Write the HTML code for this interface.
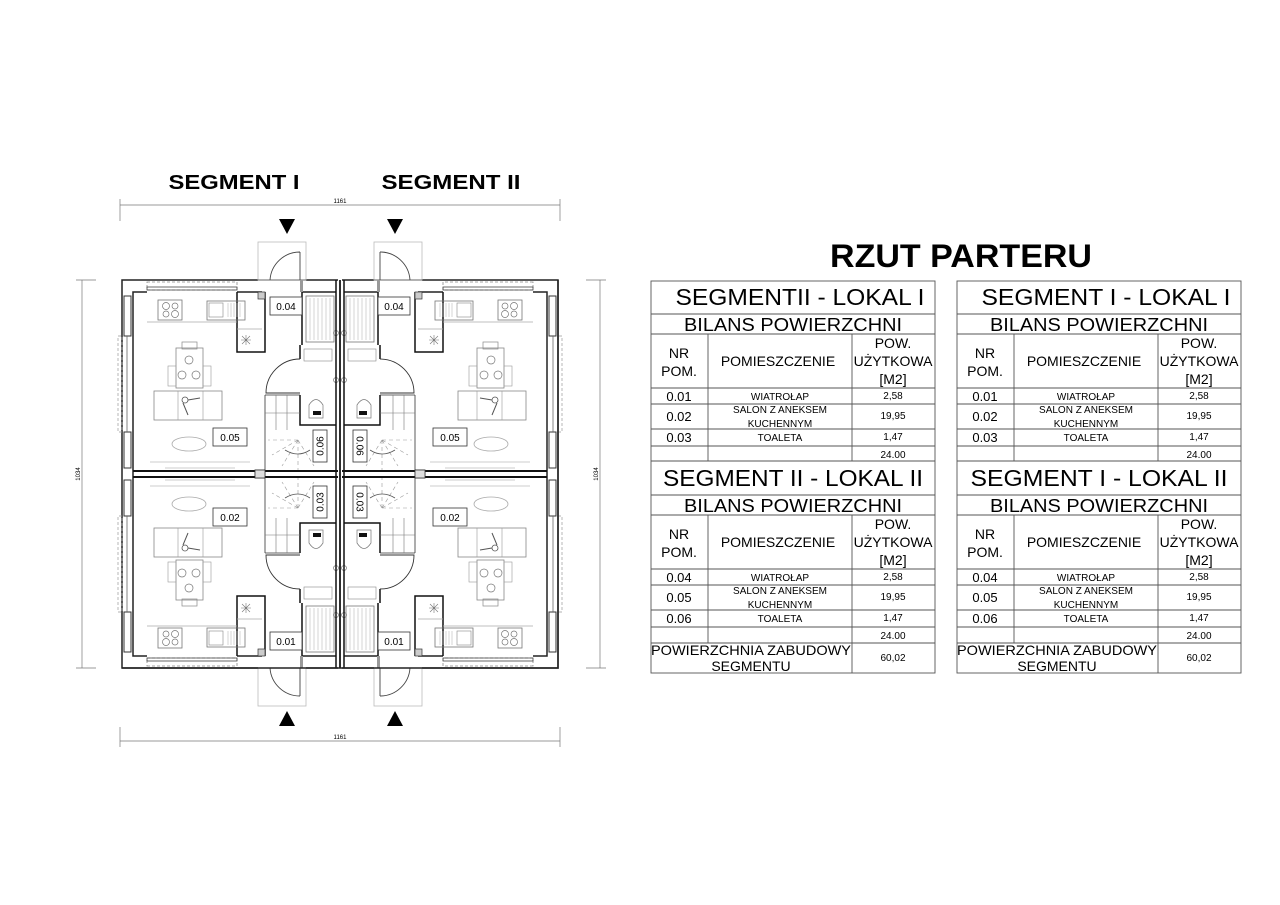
<!DOCTYPE html>
<html><head><meta charset="utf-8"><style>
html,body{margin:0;padding:0;background:#fff;width:1280px;height:905px;overflow:hidden}
svg{display:block}
text{font-family:"Liberation Sans",sans-serif;fill:#000}
</style></head><body>
<svg width="1280" height="905" viewBox="0 0 1280 905" xmlns="http://www.w3.org/2000/svg">
<defs>
<g id="quad">
 <path d="M122,474 V280 H258 M133,474 V292 H147 M237,292 H262" fill="none" stroke="#222" stroke-width="1.5"/>
 <path d="M306,280 H338 M302,292 H336" fill="none" stroke="#222" stroke-width="1.5"/>
 <rect x="124" y="296" width="7" height="40" fill="#fff" stroke="#333" stroke-width="1"/>
 <rect x="124" y="432" width="7" height="36" fill="#fff" stroke="#333" stroke-width="1"/>
 <rect x="147" y="282" width="90" height="8" fill="none" stroke="#888" stroke-width="0.8" stroke-dasharray="3,2"/>
 <rect x="147" y="287" width="90" height="3" fill="none" stroke="#444" stroke-width="0.8"/>
 <rect x="118" y="336" width="4" height="96" fill="none" stroke="#999" stroke-width="0.7" stroke-dasharray="3,2"/>
 <line x1="127" y1="336" x2="127" y2="432" stroke="#666" stroke-width="0.8"/>
 <path d="M133,471 H338" stroke="#111" stroke-width="2"/>
 <rect x="255" y="470" width="10" height="8" fill="#ddd" stroke="#333" stroke-width="0.8"/>
 <path d="M237,292 V352 H265 V292" fill="none" stroke="#111" stroke-width="1.5"/>
 <rect x="258" y="292" width="7" height="7" fill="#ccc" stroke="#333" stroke-width="0.7"/>
 <path d="M147,322 H237" stroke="#aaa" stroke-width="0.8"/>
 <line x1="237" y1="329" x2="262" y2="329" stroke="#aaa" stroke-width="0.8"/>
 <rect x="158" y="300" width="24" height="20" fill="none" stroke="#777" stroke-width="0.8"/>
 <circle cx="166" cy="306" r="3.5" fill="none" stroke="#777" stroke-width="0.7"/>
 <circle cx="175" cy="306" r="3" fill="none" stroke="#777" stroke-width="0.7"/>
 <circle cx="166" cy="314" r="3" fill="none" stroke="#777" stroke-width="0.7"/>
 <circle cx="175" cy="314" r="3.5" fill="none" stroke="#777" stroke-width="0.7"/>
 <rect x="207" y="301" width="38" height="19" fill="none" stroke="#777" stroke-width="0.8"/>
 <rect x="209" y="303" width="14" height="14" fill="none" stroke="#888" stroke-width="0.6"/>
 <path d="M228,303 V317 M231,303 V317 M234,303 V317 M237,303 V317 M240,303 V317" stroke="#aaa" stroke-width="0.5"/>
 <path d="M246,335 V345 M241,340 H251 M242,336 L250,344 M250,336 L242,344" stroke="#777" stroke-width="0.6"/>
 <rect x="176" y="348" width="27" height="40" fill="none" stroke="#888" stroke-width="0.8"/>
 <rect x="182" y="342" width="15" height="7" fill="none" stroke="#888" stroke-width="0.7"/>
 <circle cx="189" cy="360" r="4" fill="none" stroke="#777" stroke-width="0.7"/>
 <circle cx="182" cy="375" r="4" fill="none" stroke="#777" stroke-width="0.7"/>
 <circle cx="196" cy="375" r="4" fill="none" stroke="#777" stroke-width="0.7"/>
 <rect x="168" y="366" width="8" height="20" fill="none" stroke="#999" stroke-width="0.6"/>
 <rect x="203" y="366" width="8" height="20" fill="none" stroke="#999" stroke-width="0.6"/>
 <rect x="154" y="391" width="68" height="29" fill="none" stroke="#888" stroke-width="0.8"/>
 <path d="M178,391 V420 M203,391 V420" stroke="#999" stroke-width="0.6"/>
 <circle cx="185" cy="400" r="3" fill="none" stroke="#555" stroke-width="0.8"/>
 <path d="M183,403 L188,415 M188,400 L200,398" stroke="#555" stroke-width="1"/>
 <ellipse cx="189" cy="444" rx="17" ry="7" fill="none" stroke="#aaa" stroke-width="0.8"/>
 <path d="M150,462 H250 M165,468 H235" stroke="#ccc" stroke-width="1"/>
 <path d="M302,292 V345" stroke="#111" stroke-width="1.5"/>
 <rect x="306" y="296" width="28" height="46" fill="none" stroke="#777" stroke-width="0.8"/>
 <path d="M310,298 V340 M314,298 V340 M318,298 V340 M322,298 V340 M326,298 V340 M330,298 V340" stroke="#bbb" stroke-width="0.6"/>
 <circle cx="336" cy="333" r="2.5" fill="none" stroke="#666" stroke-width="0.6"/>
 <circle cx="336" cy="380" r="2.5" fill="none" stroke="#666" stroke-width="0.6"/>
 <path d="M300,345 V359 M300,395 V425 H336" fill="none" stroke="#111" stroke-width="1.5"/>
 <rect x="304" y="349" width="28" height="12" fill="none" stroke="#888" stroke-width="0.6"/>
 <path d="M309,418 V405 Q316,394 323,405 V418 Z" fill="none" stroke="#777" stroke-width="0.7"/>
 <rect x="313" y="411" width="8" height="4" fill="#111"/>
 <path d="M300,359 A34,34 0 0 0 266,393 H300" fill="none" stroke="#333" stroke-width="0.9"/>
 <path d="M265,395 V471 M265,395 H300" stroke="#333" stroke-width="0.8" fill="none"/>
 <path d="M276,395 V430 M287,395 V430 M265,413 H300" stroke="#777" stroke-width="0.6"/>
 <path d="M298,440 L268,440 M298,440 L272,455 M298,440 L282,466 M298,440 L298,470 M298,440 L314,466" stroke="#999" stroke-width="0.6" stroke-dasharray="4,3"/>
 <path d="M285,450 Q298,458 310,450" fill="none" stroke="#555" stroke-width="0.8"/>
 <rect x="313" y="430" width="14" height="32" fill="#fff" stroke="#333" stroke-width="0.8"/>
 <path d="M336,280 V474 M340,280 V474" stroke="#111" stroke-width="1.5"/>
 <rect x="258" y="242" width="48" height="38" fill="none" stroke="#bbb" stroke-width="0.8"/>
 <path d="M300,252 V280 M300,252 A30,30 0 0 0 270,280" fill="none" stroke="#444" stroke-width="0.9"/>
 <path d="M258,280 H306" stroke="#444" stroke-width="0.8"/>
 <rect x="300" y="280" width="3" height="12" fill="#999"/>
</g>
<g id="half">
 <use href="#quad"/>
 <use href="#quad" transform="translate(0,948) scale(1,-1)"/>
</g>
</defs>

<text x="234" y="189" font-size="20" font-weight="bold" text-anchor="middle" textLength="131" lengthAdjust="spacingAndGlyphs">SEGMENT I</text>
<text x="451" y="189" font-size="20" font-weight="bold" text-anchor="middle" textLength="139" lengthAdjust="spacingAndGlyphs">SEGMENT II</text>
<text x="830" y="267" font-size="32" font-weight="bold" textLength="262" lengthAdjust="spacingAndGlyphs">RZUT PARTERU</text>

<g stroke="#777" stroke-width="0.7">
 <line x1="120" y1="205" x2="560" y2="205"/><line x1="120" y1="199" x2="120" y2="221"/><line x1="560" y1="199" x2="560" y2="221"/>
 <line x1="120" y1="741" x2="560" y2="741"/><line x1="120" y1="727" x2="120" y2="747"/><line x1="560" y1="727" x2="560" y2="747"/>
 <line x1="82" y1="280" x2="82" y2="668"/><line x1="76" y1="280" x2="96" y2="280"/><line x1="76" y1="668" x2="96" y2="668"/>
 <line x1="600" y1="280" x2="600" y2="668"/><line x1="586" y1="280" x2="606" y2="280"/><line x1="586" y1="668" x2="606" y2="668"/>
</g>
<text x="340" y="203" font-size="6" fill="#888" text-anchor="middle">1161</text>
<text x="340" y="739" font-size="6" fill="#888" text-anchor="middle">1161</text>
<text x="80" y="474" font-size="6" fill="#888" text-anchor="middle" transform="rotate(-90 80 474)">1034</text>
<text x="598" y="474" font-size="6" fill="#888" text-anchor="middle" transform="rotate(-90 598 474)">1034</text>

<path d="M279,219 H295 L287,234 Z M387,219 H403 L395,234 Z M279,726 H295 L287,711 Z M387,726 H403 L395,711 Z" fill="#000"/>

<use href="#half"/>
<use href="#half" transform="translate(680,0) scale(-1,1)"/>
<path d="M122,668 H558 V280" fill="none" stroke="#222" stroke-width="1.5"/>

<g fill="#fff" stroke="#333" stroke-width="0.8">
 <rect x="270" y="297" width="32" height="18"/><rect x="378" y="297" width="32" height="18"/>
 <rect x="213" y="428" width="34" height="18"/><rect x="433" y="428" width="34" height="18"/>
 <rect x="213" y="508" width="34" height="18"/><rect x="433" y="508" width="34" height="18"/>
 <rect x="270" y="632" width="32" height="18"/><rect x="378" y="632" width="32" height="18"/>
</g>
<g font-size="10" text-anchor="middle">
<text x="286" y="310">0.04</text><text x="394" y="310">0.04</text>
<text x="230" y="441">0.05</text><text x="450" y="441">0.05</text>
<text x="230" y="521">0.02</text><text x="450" y="521">0.02</text>
<text x="286" y="645">0.01</text><text x="394" y="645">0.01</text>
<text x="320" y="449.5" transform="rotate(-90 320 446)">0.06</text>
<text x="360" y="449.5" transform="rotate(90 360 446)">0.06</text>
<text x="320" y="505.5" transform="rotate(-90 320 502)">0.03</text>
<text x="360" y="505.5" transform="rotate(90 360 502)">0.03</text>
</g>

<g fill="none" stroke="#555" stroke-width="0.9">
 <g id="tbl">
 <rect x="651" y="281" width="284" height="392"/>
 <path d="M651,314 H935 M651,334 H935 M651,388 H935 M651,404 H935 M651,429 H935 M651,446 H935 M651,461 H935
          M651,495 H935 M651,515 H935 M651,569 H935 M651,585 H935 M651,610 H935 M651,627 H935 M651,643 H935
          M708,334 V461 M852,334 V461 M708,515 V643 M852,515 V673"/>
 </g>
 <use href="#tbl" transform="translate(306,0)"/>
</g>

<g text-anchor="middle">
 <text x="800" y="305" font-size="23" textLength="249" lengthAdjust="spacingAndGlyphs">SEGMENTII - LOKAL I</text>
 <text x="793" y="331" font-size="18" textLength="218" lengthAdjust="spacingAndGlyphs">BILANS POWIERZCHNI</text>
 <text x="679" y="358" font-size="14">NR</text><text x="679" y="376" font-size="14">POM.</text>
 <text x="778" y="366" font-size="14">POMIESZCZENIE</text>
 <text x="893" y="348" font-size="14">POW.</text><text x="893" y="366" font-size="14">UŻYTKOWA</text><text x="893" y="384" font-size="14">[M2]</text>
 <text x="679" y="401" font-size="13">0.01</text><text x="780" y="400" font-size="10">WIATROŁAP</text><text x="893" y="399" font-size="10">2,58</text>
 <text x="679" y="421" font-size="13">0.02</text><text x="780" y="413" font-size="10">SALON Z ANEKSEM</text><text x="780" y="427" font-size="10">KUCHENNYM</text><text x="893" y="419" font-size="10">19,95</text>
 <text x="679" y="442" font-size="13">0.03</text><text x="780" y="441" font-size="10">TOALETA</text><text x="893" y="440" font-size="10">1,47</text>
 <text x="893" y="458" font-size="10">24.00</text>
 <text x="793" y="486" font-size="23" textLength="260" lengthAdjust="spacingAndGlyphs">SEGMENT II - LOKAL II</text>
 <text x="793" y="512" font-size="18" textLength="218" lengthAdjust="spacingAndGlyphs">BILANS POWIERZCHNI</text>
 <text x="679" y="539" font-size="14">NR</text><text x="679" y="557" font-size="14">POM.</text>
 <text x="778" y="547" font-size="14">POMIESZCZENIE</text>
 <text x="893" y="529" font-size="14">POW.</text><text x="893" y="547" font-size="14">UŻYTKOWA</text><text x="893" y="565" font-size="14">[M2]</text>
 <text x="679" y="582" font-size="13">0.04</text><text x="780" y="581" font-size="10">WIATROŁAP</text><text x="893" y="580" font-size="10">2,58</text>
 <text x="679" y="602" font-size="13">0.05</text><text x="780" y="594" font-size="10">SALON Z ANEKSEM</text><text x="780" y="608" font-size="10">KUCHENNYM</text><text x="893" y="600" font-size="10">19,95</text>
 <text x="679" y="623" font-size="13">0.06</text><text x="780" y="622" font-size="10">TOALETA</text><text x="893" y="621" font-size="10">1,47</text>
 <text x="893" y="639" font-size="10">24.00</text>
 <text x="751" y="655" font-size="14" textLength="200" lengthAdjust="spacingAndGlyphs">POWIERZCHNIA ZABUDOWY</text><text x="751" y="671" font-size="14">SEGMENTU</text>
 <text x="893" y="661" font-size="10">60,02</text>

 <text x="1106" y="305" font-size="23" textLength="249" lengthAdjust="spacingAndGlyphs">SEGMENT I - LOKAL I</text>
 <text x="1099" y="331" font-size="18" textLength="218" lengthAdjust="spacingAndGlyphs">BILANS POWIERZCHNI</text>
 <text x="985" y="358" font-size="14">NR</text><text x="985" y="376" font-size="14">POM.</text>
 <text x="1084" y="366" font-size="14">POMIESZCZENIE</text>
 <text x="1199" y="348" font-size="14">POW.</text><text x="1199" y="366" font-size="14">UŻYTKOWA</text><text x="1199" y="384" font-size="14">[M2]</text>
 <text x="985" y="401" font-size="13">0.01</text><text x="1086" y="400" font-size="10">WIATROŁAP</text><text x="1199" y="399" font-size="10">2,58</text>
 <text x="985" y="421" font-size="13">0.02</text><text x="1086" y="413" font-size="10">SALON Z ANEKSEM</text><text x="1086" y="427" font-size="10">KUCHENNYM</text><text x="1199" y="419" font-size="10">19,95</text>
 <text x="985" y="442" font-size="13">0.03</text><text x="1086" y="441" font-size="10">TOALETA</text><text x="1199" y="440" font-size="10">1,47</text>
 <text x="1199" y="458" font-size="10">24.00</text>
 <text x="1099" y="486" font-size="23" textLength="257" lengthAdjust="spacingAndGlyphs">SEGMENT I - LOKAL II</text>
 <text x="1099" y="512" font-size="18" textLength="218" lengthAdjust="spacingAndGlyphs">BILANS POWIERZCHNI</text>
 <text x="985" y="539" font-size="14">NR</text><text x="985" y="557" font-size="14">POM.</text>
 <text x="1084" y="547" font-size="14">POMIESZCZENIE</text>
 <text x="1199" y="529" font-size="14">POW.</text><text x="1199" y="547" font-size="14">UŻYTKOWA</text><text x="1199" y="565" font-size="14">[M2]</text>
 <text x="985" y="582" font-size="13">0.04</text><text x="1086" y="581" font-size="10">WIATROŁAP</text><text x="1199" y="580" font-size="10">2,58</text>
 <text x="985" y="602" font-size="13">0.05</text><text x="1086" y="594" font-size="10">SALON Z ANEKSEM</text><text x="1086" y="608" font-size="10">KUCHENNYM</text><text x="1199" y="600" font-size="10">19,95</text>
 <text x="985" y="623" font-size="13">0.06</text><text x="1086" y="622" font-size="10">TOALETA</text><text x="1199" y="621" font-size="10">1,47</text>
 <text x="1199" y="639" font-size="10">24.00</text>
 <text x="1057" y="655" font-size="14" textLength="200" lengthAdjust="spacingAndGlyphs">POWIERZCHNIA ZABUDOWY</text><text x="1057" y="671" font-size="14">SEGMENTU</text>
 <text x="1199" y="661" font-size="10">60,02</text>
</g>
</svg>
</body></html>
